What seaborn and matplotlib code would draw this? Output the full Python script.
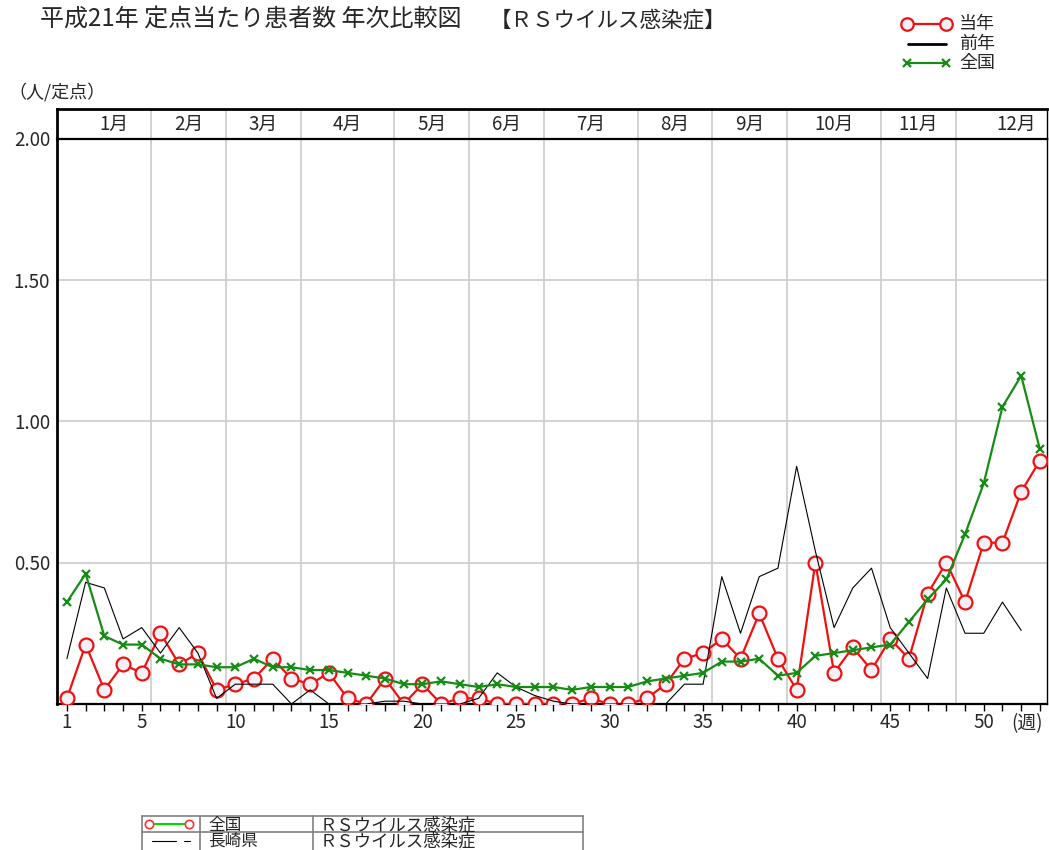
import matplotlib
matplotlib.use('Agg')
import matplotlib.pyplot as plt
import seaborn as sns

# 週別 定点当たり患者数（RSウイルス感染症）
weeks = list(range(1, 54))
current = [0.02, 0.21, 0.05, 0.14, 0.11, 0.25, 0.14, 0.18, 0.05, 0.07,
           0.09, 0.16, 0.09, 0.07, 0.11, 0.02, 0.00, 0.09, 0.00, 0.07,
           0.00, 0.02, 0.02, 0.00, 0.00, 0.00, 0.00, 0.00, 0.02, 0.00,
           0.00, 0.02, 0.07, 0.16, 0.18, 0.23, 0.16, 0.32, 0.16, 0.05,
           0.50, 0.11, 0.20, 0.12, 0.23, 0.16, 0.39, 0.50, 0.36, 0.57,
           0.57, 0.75, 0.86]
prev_weeks = list(range(1, 53))
previous = [0.16, 0.43, 0.41, 0.23, 0.27, 0.18, 0.27, 0.18, 0.02, 0.07,
            0.07, 0.07, 0.00, 0.05, 0.00, 0.00, 0.00, 0.01, 0.01, 0.00,
            0.00, 0.00, 0.02, 0.11, 0.06, 0.03, 0.01, 0.00, 0.00, 0.00,
            0.00, 0.00, 0.00, 0.07, 0.07, 0.45, 0.25, 0.45, 0.48, 0.84,
            0.54, 0.27, 0.41, 0.48, 0.27, 0.18, 0.09, 0.41, 0.25, 0.25,
            0.36, 0.26]
national = [0.36, 0.46, 0.24, 0.21, 0.21, 0.16, 0.14, 0.14, 0.13, 0.13,
            0.16, 0.13, 0.13, 0.12, 0.12, 0.11, 0.10, 0.09, 0.07, 0.07,
            0.08, 0.07, 0.06, 0.07, 0.06, 0.06, 0.06, 0.05, 0.06, 0.06,
            0.06, 0.08, 0.09, 0.10, 0.11, 0.15, 0.15, 0.16, 0.10, 0.11,
            0.17, 0.18, 0.19, 0.20, 0.21, 0.29, 0.37, 0.44, 0.60, 0.78,
            1.05, 1.16, 0.90]

month_names = ['1月', '2月', '3月', '4月', '5月', '6月',
               '7月', '8月', '9月', '10月', '11月', '12月']
month_last_week = [5, 9, 13, 18, 22, 26, 31, 35, 39, 44, 48]
week_labels = [1, 5, 10, 15, 20, 25, 30, 35, 40, 45, 50]
y_ticks = [0.5, 1.0, 1.5, 2.0]
series_names = ['当年', '前年', '全国']
table_rows = [['全国', 'ＲＳウイルス感染症'], ['長崎県', 'ＲＳウイルス感染症']]

sns.set_style('white')
plt.rcParams['font.family'] = ['Noto Sans CJK JP', 'DejaVu Sans']

RED = '#ee1111'
GREEN = '#168c16'
GRID = '#cfcfcf'
FACE = '#f4f0f8'

fig = plt.figure(figsize=[10.49, 8.5], dpi=100)
W, H = 1049.0, 850.0
ax = fig.add_axes([57 / W, 1 - 704 / H, 990 / W, 566 / H])
axh = fig.add_axes([57 / W, 1 - 139 / H, 990 / W, 30 / H])

xmin, xmax = 0.47, 53.38
bounds = [w + 0.5 for w in month_last_week]

for b in bounds:
    ax.axvline(b, color=GRID, lw=1.3, zorder=0)
    axh.axvline(b, color=GRID, lw=1.3, zorder=0)
for yv in y_ticks[:-1]:
    ax.axhline(yv, color=GRID, lw=1.3, zorder=0)

sns.lineplot(x=weeks, y=current, ax=ax, color=RED, lw=1.6, marker='o',
             markersize=10, markerfacecolor=FACE, markeredgecolor=RED,
             markeredgewidth=1.6, zorder=3)
sns.lineplot(x=prev_weeks, y=previous, ax=ax, color='black', lw=0.8, zorder=4)
sns.lineplot(x=weeks, y=national, ax=ax, color=GREEN, lw=1.6, marker='x',
             markersize=6, markeredgecolor=GREEN, markeredgewidth=1.6, zorder=5)

ax.set_xlim(xmin, xmax)
ax.set_ylim(0, 2.0)
ax.set_xticks(weeks)
ax.set_xticklabels([str(w) if w in week_labels else '' for w in weeks], fontsize=13.5)
ax.set_yticks(y_ticks)
ax.set_yticklabels(['%.2f' % v for v in y_ticks], fontsize=13.5)
ax.tick_params(axis='x', direction='out', length=5, width=1, color='black', pad=1, bottom=True)
ax.tick_params(axis='y', length=0, pad=5)
ax.annotate('(週)', xy=(52.3, 0), xycoords=('data', 'axes fraction'),
            xytext=(0, -6.5), textcoords='offset points', ha='center', va='top', fontsize=13.5)
for s in ax.spines.values():
    s.set_color('black')
ax.spines['left'].set_linewidth(2)
ax.spines['bottom'].set_linewidth(1.6)
ax.spines['right'].set_linewidth(1)
ax.spines['top'].set_visible(False)

# 月ヘッダー
edges = [1.5] + bounds + [55]
axh.set_xlim(xmin, xmax)
axh.set_ylim(0, 1)
for i, name in enumerate(month_names):
    axh.text((edges[i] + edges[i + 1]) / 2, 0.5, name, ha='center', va='center', fontsize=13.5)
axh.set_xticks([])
axh.set_yticks([])
for s in axh.spines.values():
    s.set_color('black')
axh.spines['top'].set_linewidth(2)
axh.spines['left'].set_linewidth(2)
axh.spines['bottom'].set_linewidth(1.6)
axh.spines['right'].set_linewidth(1)

# タイトル・単位
fig.text(40 / W, 1 - 20 / H, '平成21年 定点当たり患者数 年次比較図', fontsize=17.3, va='center')
fig.text(490 / W, 1 - 20 / H, '【ＲＳウイルス感染症】', fontsize=15.5, va='center')
fig.text(8 / W, 1 - 92 / H, '（人/定点）', fontsize=13, va='center')

# 右上の凡例
axl = fig.add_axes([0, 1 - 80 / H, 1, 80 / H])
axl.set_xlim(0, W)
axl.set_ylim(80, 0)
axl.axis('off')
axl.plot([907, 946], [24, 24], color=RED, lw=1.6, marker='o', markersize=9,
         markerfacecolor=FACE, markeredgecolor=RED, markeredgewidth=1.6)
axl.plot([908, 946], [44, 44], color='black', lw=2)
axl.plot([907, 946], [63, 63], color=GREEN, lw=1.6, marker='x', markersize=6,
         markeredgewidth=1.6)
for i, name in enumerate(series_names):
    axl.text(959, 24 + i * 19.5, name, fontsize=13, va='center')

# 下部の凡例表（下端で切れている）
axt = fig.add_axes([0, 0, 1, 40 / H])
axt.set_xlim(0, W)
axt.set_ylim(850, 810)
axt.axis('off')
TC = '#808080'
axt.plot([142, 583], [816, 816], color=TC, lw=1.2)
axt.plot([142, 583], [832, 832], color=TC, lw=1.2)
for xv in [142, 200, 313, 583]:
    axt.plot([xv, xv], [816, 851], color=TC, lw=1.2)
axt.plot([149, 189], [824, 824], color='#00dd00', lw=1.5)
axt.plot([149, 189], [824, 824], ls='none', marker='o', markersize=6,
         markerfacecolor='white', markeredgecolor='#ff3333', markeredgewidth=1.2)
axt.plot([152, 176], [841, 841], color='black', lw=0.8)
axt.plot([184, 190], [841, 841], color='black', lw=0.8)
for r, (name, disease) in enumerate(table_rows):
    yy = 830 + r * 16
    axt.text(208, yy, name, fontsize=12, va='baseline')
    axt.text(320, yy, disease, fontsize=12.5, va='baseline')

fig.savefig('out.png', dpi=100)
